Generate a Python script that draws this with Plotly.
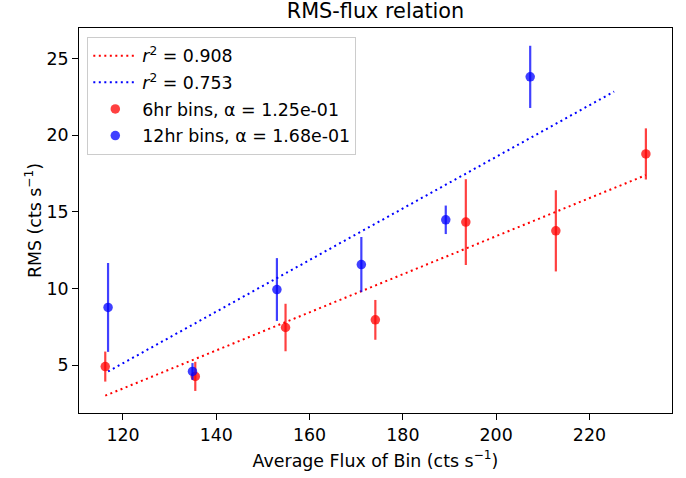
import plotly.graph_objects as go

# 6hr bins
flux_6hr = [116.2, 135.5, 154.85, 174.1, 193.5, 212.8, 232.1]
rms_6hr = [4.9, 4.26, 7.45, 7.95, 14.33, 13.76, 18.78]
err_6hr = [0.98, 0.95, 1.55, 1.3, 2.8, 2.65, 1.67]

# 12hr bins
flux_12hr = [116.8, 134.9, 153.0, 171.1, 189.2, 207.3]
rms_12hr = [8.76, 4.58, 9.93, 11.56, 14.48, 23.81]
err_12hr = [2.9, 0.55, 2.05, 1.8, 0.93, 2.03]

# linear fit lines (end points)
fit_6hr_x = [116.2, 232.1]
fit_6hr_y = [3.0, 17.4]
fit_12hr_x = [116.8, 225.3]
fit_12hr_y = [4.58, 22.85]

r2_labels = ["<i>r</i><sup>2</sup> = 0.908", "<i>r</i><sup>2</sup> = 0.753"]
bin_labels = ["6hr bins, α = 1.25e-01", "12hr bins, α = 1.68e-01"]

RED = "rgba(255,0,0,0.75)"
BLUE = "rgba(0,0,255,0.75)"
FS = 17.4

fig = go.Figure()

fig.add_trace(go.Scatter(
    x=fit_6hr_x, y=fit_6hr_y, mode="lines", name=r2_labels[0],
    line=dict(color="red", width=2, dash="2px,3.5px"), legendgroup="a",
))
fig.add_trace(go.Scatter(
    x=fit_12hr_x, y=fit_12hr_y, mode="lines", name=r2_labels[1],
    line=dict(color="blue", width=2, dash="2px,3.5px"), legendgroup="b",
))
fig.add_trace(go.Scatter(
    x=flux_6hr, y=rms_6hr, mode="markers", name=bin_labels[0],
    marker=dict(color=RED, size=9.5),
    error_y=dict(type="data", array=err_6hr, color=RED, thickness=2.2, width=0),
    legendgroup="c",
))
fig.add_trace(go.Scatter(
    x=flux_12hr, y=rms_12hr, mode="markers", name=bin_labels[1],
    marker=dict(color=BLUE, size=9.5),
    error_y=dict(type="data", array=err_12hr, color=BLUE, thickness=2.2, width=0),
    legendgroup="d",
))

axis_style = dict(
    showline=True, linecolor="black", linewidth=1, mirror=True,
    showgrid=False, zeroline=False, automargin=False,
    ticks="outside", ticklen=6, tickcolor="black",
    tickfont=dict(size=FS, color="black"),
)

fig.update_layout(
    width=686, height=478,
    template="plotly_white",
    font=dict(family="DejaVu Sans", size=FS, color="black"),
    margin=dict(l=79, r=14, t=28, b=65),
    title=dict(text="RMS-flux relation", x=(79 + 672) / 2 / 686, xanchor="center",
               y=1 - 11 / 478, yanchor="middle", font=dict(size=20.8)),
    xaxis=dict(range=[110.57, 237.7], dtick=20,
               title=dict(text="Average Flux of Bin (cts s<sup>−1</sup>)",
                          font=dict(size=FS), standoff=10),
               **axis_style),
    yaxis=dict(range=[1.87, 27.0], dtick=5,
               title=dict(text="RMS (cts s<sup>−1</sup>)",
                          font=dict(size=FS), standoff=0),
               **axis_style),
    legend=dict(x=0.014, y=0.977, xanchor="left", yanchor="top",
                bgcolor="white", bordercolor="#cccccc", borderwidth=1,
                font=dict(size=FS), tracegroupgap=1, itemwidth=44),
    plot_bgcolor="white", paper_bgcolor="white",
)

# drop the browser's default 8px body margin so the figure sits at the page corner
fig.write_html("out.html", config={"displayModeBar": False},
               post_script="document.body.style.margin='0';")
